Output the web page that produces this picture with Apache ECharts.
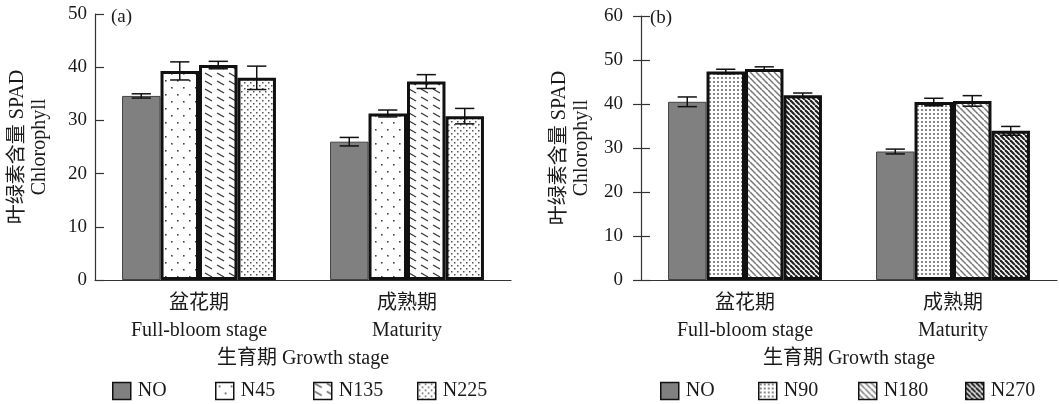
<!DOCTYPE html>
<html>
<head>
<meta charset="utf-8">
<script src="https://cdn.jsdelivr.net/npm/echarts@6/dist/echarts.min.js"></script>
<style>
  html, body { margin: 0; padding: 0; background: #fff; }
  #main { width: 1059px; height: 404px; }
</style>
</head>
<body>
<div id="main"></div>
<script>
// data
var stages = ['盆花期\nFull-bloom stage', '成熟期\nMaturity'];

var namesA = ['NO', 'N45', 'N135', 'N225'];
var meanA = [[34.6, 26.0], [39.3, 31.3], [40.4, 37.3], [38.0, 30.8]];
var errA  = [[0.4, 0.8], [1.7, 0.65], [0.7, 1.3], [2.2, 1.45]];

var namesB = ['NO', 'N90', 'N180', 'N270'];
var meanB = [[40.5, 29.2], [47.4, 40.45], [47.95, 40.7], [42.0, 33.9]];
var errB  = [[1.1, 0.55], [0.5, 0.85], [0.5, 1.2], [0.5, 1.0]];

var FONT = '"Liberation Serif", "Noto Sans CJK SC", serif';

// fill patterns drawn on small canvases
function tile(w, h, draw) {
    var c = document.createElement('canvas');
    c.width = w; c.height = h;
    var g = c.getContext('2d');
    g.fillStyle = '#fff';
    g.fillRect(0, 0, w, h);
    draw(g, w, h);
    return { image: c, repeat: 'repeat' };
}
function diag(g, s, color, lw) {
    g.strokeStyle = color;
    g.lineWidth = lw;
    for (var i = -1; i <= 1; i++) {
        g.beginPath();
        g.moveTo(i * s, 0);
        g.lineTo(i * s + s, s);
        g.stroke();
    }
}

var fillsA = [
    '#808080',
    tile(12, 14, function (g) {
        g.fillStyle = '#444';
        g.fillRect(3, 3, 1.6, 1.6);
        g.fillRect(9, 10, 1.6, 1.6);
    }),
    tile(12, 8, function (g) {
        g.strokeStyle = '#333';
        g.lineWidth = 1.3;
        g.beginPath(); g.moveTo(1, 1); g.lineTo(8, 5); g.stroke();
    }),
    tile(6, 6, function (g) {
        g.fillStyle = '#555';
        g.fillRect(1, 1, 1.5, 1.5);
        g.fillRect(4, 4, 1.5, 1.5);
    })
];
var fillsB = [
    '#808080',
    tile(4, 4, function (g) {
        g.fillStyle = '#888';
        g.fillRect(1, 1, 2, 2);
    }),
    tile(6, 6, function (g) { diag(g, 6, '#777', 1.5); }),
    tile(5, 5, function (g) { diag(g, 5, '#222', 2.2); })
];

function errRender(params, api) {
    var ci = api.value(0), v = api.value(1), e = api.value(2), si = api.value(3);
    var c = api.coord([ci, v]);
    var band = api.size([1, 0])[0];
    var bw = band * 0.74 / 4;
    var x = c[0] + (si - 1.5) * bw;
    var y1 = api.coord([ci, v + e])[1];
    var y2 = api.coord([ci, v - e])[1];
    var hw = bw * 0.25;
    var st = { stroke: '#111', lineWidth: 1.5 };
    return {
        type: 'group',
        children: [
            { type: 'line', shape: { x1: x, y1: y1, x2: x, y2: y2 }, style: st },
            { type: 'line', shape: { x1: x - hw, y1: y1, x2: x + hw, y2: y1 }, style: st },
            { type: 'line', shape: { x1: x - hw, y1: y2, x2: x + hw, y2: y2 }, style: st }
        ]
    };
}

function buildSeries(names, means, errs, fills, axisIdx) {
    var out = [];
    var errData = [];
    names.forEach(function (n, i) {
        out.push({
            name: n,
            type: 'bar',
            xAxisIndex: axisIdx,
            yAxisIndex: axisIdx,
            barGap: '0%',
            barCategoryGap: '26%',
            data: means[i],
            itemStyle: {
                color: fills[i],
                borderColor: i === 0 ? '#444' : '#111',
                borderWidth: i === 0 ? 1 : 3
            }
        });
        means[i].forEach(function (v, c) {
            errData.push([c, v, errs[i][c], i]);
        });
    });
    out.push({
        type: 'custom',
        xAxisIndex: axisIdx,
        yAxisIndex: axisIdx,
        renderItem: errRender,
        encode: { x: 0, y: 1 },
        data: errData,
        z: 5
    });
    return out;
}

function xAxisOf(gridIdx) {
    return {
        type: 'category',
        gridIndex: gridIdx,
        data: stages,
        axisLine: { lineStyle: { color: '#333', width: 1.2 } },
        axisTick: { inside: true, length: 7, lineStyle: { color: '#333', width: 1.5 } },
        axisLabel: { color: '#1a1a1a', fontFamily: FONT, fontSize: 20, lineHeight: 27, margin: 10 },
        name: '生育期 Growth stage',
        nameLocation: 'middle',
        nameGap: 69,
        nameTextStyle: { color: '#1a1a1a', fontFamily: FONT, fontSize: 20 }
    };
}

function yAxisOf(gridIdx, max, labelMargin, nameGap) {
    return {
        type: 'value',
        gridIndex: gridIdx,
        min: 0,
        max: max,
        interval: 10,
        splitLine: { show: false },
        axisLine: { show: true, lineStyle: { color: '#333', width: 1.2 } },
        axisTick: { show: true, inside: true, length: 9, lineStyle: { color: '#333', width: 1.2 } },
        axisLabel: { color: '#1a1a1a', fontFamily: FONT, fontSize: 19, margin: labelMargin },
        name: '叶绿素含量 SPAD\nChlorophyll',
        nameLocation: 'middle',
        nameRotate: 90,
        nameGap: nameGap,
        nameTextStyle: { color: '#1a1a1a', fontFamily: FONT, fontSize: 20, lineHeight: 22 }
    };
}

var legendLeftA = [107, 210, 308, 412];
var legendLeftB = [655, 753, 853, 960];
var legends = [];
function addLegends(names, lefts) {
    names.forEach(function (n, i) {
        legends.push({
            data: [{ name: n, icon: 'rect' }],
            left: lefts[i],
            top: 376,
            itemWidth: 18,
            itemHeight: 17,
            itemGap: 0,
            selectedMode: false,
            itemStyle: { borderColor: '#111', borderWidth: 1.5 },
            textStyle: { color: '#1a1a1a', fontFamily: FONT, fontSize: 20, padding: [0, 0, 0, 2] }
        });
    });
}
addLegends(namesA, legendLeftA);
addLegends(namesB, legendLeftB);

var myChart = echarts.init(document.getElementById('main'));
var option = {
    backgroundColor: '#fff',
    animation: false,
    legend: legends,
    grid: [
        { left: 95, right: 548, top: 14, bottom: 124 },
        { left: 641, right: 2, top: 16, bottom: 124 }
    ],
    xAxis: [xAxisOf(0), xAxisOf(1)],
    yAxis: [
        yAxisOf(0, 50, 8, 44),
        yAxisOf(1, 60, 18, 48),
        // outer half of the crossing ticks on panel (b)
        {
            type: 'value', gridIndex: 1, min: 0, max: 60, interval: 10, position: 'left',
            splitLine: { show: false }, axisLine: { show: false }, axisLabel: { show: false },
            axisTick: { show: true, inside: false, length: 8, lineStyle: { color: '#333', width: 1.2 } }
        }
    ],
    graphic: [
        { type: 'text', left: 111, top: 8, style: { text: '(a)', font: '19px ' + FONT, fill: '#1a1a1a' } },
        { type: 'text', left: 650, top: 9, style: { text: '(b)', font: '19px ' + FONT, fill: '#1a1a1a' } }
    ],
    series: buildSeries(namesA, meanA, errA, fillsA, 0)
        .concat(buildSeries(namesB, meanB, errB, fillsB, 1))
};
myChart.setOption(option);
</script>
</body>
</html>
